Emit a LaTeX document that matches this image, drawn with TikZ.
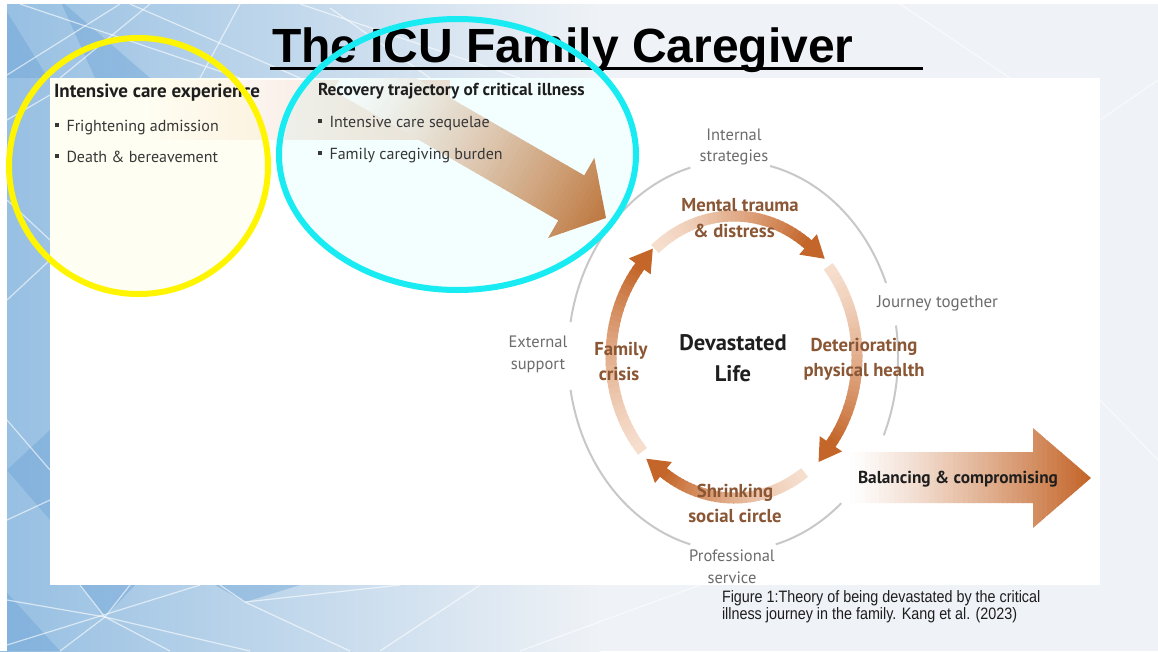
\documentclass[tikz,border=0pt]{standalone}
\usepackage{fontspec}
\setmainfont{PT Sans}
\newfontfamily\titlefont{Liberation Sans}
\newfontfamily\capfont[FakeStretch=0.87]{Liberation Sans}
\usetikzlibrary{calc,fadings}

\definecolor{bglight}{RGB}{239,242,246}
\definecolor{bgblue}{RGB}{150,191,226}
\definecolor{bgdeep}{RGB}{96,155,210}
\definecolor{ringdark}{RGB}{196,102,42}
\definecolor{ringlight}{RGB}{246,222,205}
\definecolor{bigorange}{RGB}{200,116,56}
\definecolor{bandpeach}{RGB}{246,224,210}
\definecolor{labelbrown}{RGB}{138,86,52}
\definecolor{greylabel}{RGB}{108,108,108}
\definecolor{outergrey}{RGB}{200,200,200}
\definecolor{headdark}{RGB}{30,30,30}
\definecolor{itemgrey}{RGB}{55,55,55}
\definecolor{captext}{RGB}{30,30,30}
\definecolor{hiyellow}{RGB}{255,245,0}
\definecolor{hicyan}{RGB}{24,236,242}

% ring geometry (inner cycle) and outer ellipse
\def\rcx{734}\def\rcy{357}\def\rrx{123}\def\rry{141}
\def\ocx{733}\def\ocy{356}\def\orx{165}\def\ory{195}

\newcommand{\sqbullet}{\rule[0.22em]{0.27em}{0.27em}\hspace{0.45em}}

% one arc of the inner cycle, drawn clockwise from angle #1 to #2,
% pale at its start and dark at its arrow head
\newcommand{\ringsweep}[2]{%
  \foreach \k in {0,...,35}{%
    \pgfmathsetmacro{\ta}{#1+(#2-#1)*\k/36}%
    \pgfmathsetmacro{\tb}{#1+(#2-#1)*(\k+1.3)/36}%
    \pgfmathsetmacro{\mx}{100*pow(\k/35+0.0001,1.4)}%
    \draw[ringseg, draw=ringdark!\mx!ringlight]
      plot[domain=\ta:\tb, samples=5] ({\rcx+\rrx*cos(\x)},{\rcy-\rry*sin(\x)});%
  }%
  \pgfmathsetmacro{\px}{\rcx+\rrx*cos(#2)}%
  \pgfmathsetmacro{\py}{\rcy-\rry*sin(#2)}%
  \pgfmathsetmacro{\vx}{\rrx/100*sin(#2)}%
  \pgfmathsetmacro{\vy}{\rry/100*cos(#2)}%
  \pgfmathsetmacro{\vl}{sqrt(\vx*\vx+\vy*\vy)}%
  \pgfmathsetmacro{\ux}{\vx/\vl}%
  \pgfmathsetmacro{\uy}{\vy/\vl}%
  \fill[ringdark] ({\px+22*\ux},{\py+22*\uy}) -- ({\px-13.5*\uy},{\py+13.5*\ux})
    -- ({\px+13.5*\uy},{\py-13.5*\ux}) -- cycle;%
}

\tikzset{
  fig/.style={inner sep=0pt, outer sep=0pt},
  headtxt/.style={fig, anchor=base west, font=\fontsize{17.3}{20}\selectfont\bfseries, text=headdark},
  itemtxt/.style={fig, anchor=base west, font=\fontsize{16}{19}\selectfont, text=itemgrey},
  ringtxt/.style={fig, anchor=base, font=\fontsize{18.7}{21}\selectfont\bfseries, text=labelbrown},
  coretxt/.style={fig, anchor=base, font=\fontsize{22.5}{25}\selectfont\bfseries, text=black!88},
  sidetxt/.style={fig, anchor=base, font=\fontsize{16.5}{19}\selectfont, text=greylabel},
  captxt/.style={fig, anchor=base west, font=\capfont\fontsize{16.5}{19}\selectfont, text=captext},
  ringseg/.style={line width=11pt, line cap=butt},
  outerline/.style={draw=outergrey, line width=2pt},
  bgline/.style={draw=white, line width=1.2pt, opacity=0.6},
  bgtri/.style={fill=bgdeep, opacity=0.35},
  hiring/.style={line width=6pt},
}

\begin{document}
\begin{tikzpicture}[x=1pt, y=-1pt]
\useasboundingbox (0,0) rectangle (1158,651);

% ---------- slide background ----------
\fill[bglight] (0,0) rectangle (1158,651);
\shade[left color=bgblue, right color=bglight] (0,0) rectangle (600,651);
\fill[bgtri] (7,12) -- (48,78) -- (7,78) -- cycle;
\fill[bgtri] (60,0) -- (150,78) -- (95,78) -- cycle;
\fill[bgtri] (80,585) -- (105,617) -- (135,585) -- cycle;
\fill[bgtri] (215,585) -- (245,602) -- (300,585) -- cycle;
\fill[bgtri] (7,470) -- (50,430) -- (50,520) -- cycle;
\fill[bgtri] (0,585) -- (60,651) -- (0,651) -- cycle;
\foreach \a/\b in {{(7,75)}/{(120,4)}, {(20,4)}/{(240,78)}, {(60,78)}/{(150,4)},
                   {(240,4)}/{(200,78)}, {(130,4)}/{(300,78)}, {(330,8)}/{(430,78)},
                   {(300,4)}/{(520,78)}, {(7,120)}/{(50,95)}, {(7,300)}/{(50,260)},
                   {(7,200)}/{(50,240)}, {(7,420)}/{(50,470)}, {(7,520)}/{(50,500)},
                   {(7,600)}/{(105,617)}, {(105,617)}/{(250,651)}, {(105,617)}/{(80,585)},
                   {(105,617)}/{(130,585)}, {(105,617)}/{(60,651)}, {(105,617)}/{(170,651)},
                   {(7,645)}/{(200,585)}, {(245,602)}/{(350,651)}, {(245,602)}/{(220,585)},
                   {(245,602)}/{(400,585)}, {(380,651)}/{(480,585)}, {(520,651)}/{(700,585)},
                   {(1100,120)}/{(1158,80)}, {(1100,400)}/{(1158,460)}, {(900,4)}/{(1010,78)}}
  \draw[bgline] \a -- \b;
\fill[white] (0,0) rectangle (1158,4);
\fill[white] (0,0) rectangle (7,651);

% ---------- title ----------
\node[fig, anchor=base west, font={\titlefont\fontsize{48}{52}\bfseries}] (title) at (272,62) {The ICU Family Caregiver};
\coordinate (ulL) at (270,68.5);
\coordinate (ulR) at (923,68.5);
\draw[line width=2.6pt] (ulL) -- (ulR);

% ---------- figure panel ----------
\fill[white] (50,78) rectangle (1100,585);
\fill[bandpeach, path fading=west] (150,80) rectangle (450,140);

% diagonal trajectory arrow
\begin{scope}
  \clip (50,78) rectangle (1100,585);
  \begin{scope}[shift={(606,218)}, rotate=-30]
    \clip (-300,-26) -- (-40,-26) -- (-40,-46) -- (0,0) -- (-40,46) -- (-40,26) -- (-300,26) -- cycle;
    \foreach \k in {0,...,59}{
      \pgfmathsetmacro{\xa}{-300+5*\k}
      \pgfmathsetmacro{\mx}{100*pow(\k/59+0.0001,1.4)}
      \fill[bigorange!\mx!white] (\xa,-50) rectangle ({\xa+5.6},50);
    }
  \end{scope}
\end{scope}

% light tint inside the two highlight rings, on the panel only
\begin{scope}
  \clip (50,78) rectangle (1100,585);
  \fill[hiyellow, opacity=0.05] (138.5,166) ellipse[x radius=129.5, y radius=128];
  \fill[hicyan, opacity=0.05] (457.5,154.5) ellipse[x radius=178.5, y radius=135.5];
\end{scope}

% outer grey ellipse, broken around its labels
\foreach \a/\b in {105/170, 190/255, 285/311, 336/369, 382/437}
  \draw[outerline] plot[domain=\a:\b, samples=40] ({\ocx+\orx*cos(\x)},{\ocy-\ory*sin(\x)});

% inner cycle of four arrows
\ringsweep{130}{53}
\ringsweep{40}{-38}
\ringsweep{-55}{-125}
\ringsweep{222}{140}

% balancing arrow
\begin{scope}
  \clip (845,452) -- (1033,452) -- (1033,428) -- (1091,478) -- (1033,528) -- (1033,503) -- (845,503) -- cycle;
  \foreach \k in {0,...,49}{
    \pgfmathsetmacro{\xa}{845+4.92*\k}
    \pgfmathsetmacro{\mx}{100*pow(\k/49+0.0001,1.2)}
    \fill[ringdark!\mx!white] (\xa,420) rectangle ({\xa+5.5},540);
  }
\end{scope}

% ---------- texts of the figure ----------
\node[headtxt, font=\fontsize{19}{22}\selectfont\bfseries] (ice) at (54,97) {Intensive care experience};
\node[itemtxt] (fa) at (55,131) {\sqbullet Frightening admission};
\node[itemtxt] (db) at (55,162) {\sqbullet Death \& bereavement};
\node[headtxt] (rtc) at (318,95) {Recovery trajectory of critical illness};
\node[itemtxt] (ics) at (318,127) {\sqbullet Intensive care sequelae};
\node[itemtxt] (fcb) at (318,159) {\sqbullet Family caregiving burden};

\node[sidetxt] (is1) at (734,140) {Internal};
\node[sidetxt] (is2) at (734,161) {strategies};
\node[sidetxt] (es1) at (538,347) {External};
\node[sidetxt] (es2) at (538,369) {support};
\node[sidetxt, anchor=base west, font=\fontsize{17}{19}\selectfont] (jt) at (877,307) {Journey together};
\node[sidetxt] (ps1) at (732,561) {Professional};
\node[sidetxt] (ps2) at (732,583) {service};

\node[ringtxt] (mt1) at (740,211) {Mental trauma};
\node[ringtxt] (mt2) at (734,237) {\& distress};
\node[ringtxt] (fc1) at (621,355) {Family};
\node[ringtxt] (fc2) at (619,380) {crisis};
\node[ringtxt] (dh1) at (864,351) {Deteriorating};
\node[ringtxt] (dh2) at (864,376) {physical health};
\node[ringtxt] (sc1) at (735,497) {Shrinking};
\node[ringtxt] (sc2) at (735,522) {social circle};

\node[coretxt] (dl1) at (733,350) {Devastated};
\node[coretxt] (dl2) at (733,381) {Life};

\node[headtxt] (bc) at (858,483) {Balancing \& compromising};

% caption
\node[captxt] (cap1) at (722,602) {Figure 1:Theory of being devastated by the critical};
\node[captxt] (cap2) at (722,619) {illness journey in the family. Kang et al. (2023)};

% ---------- highlight rings ----------
\draw[hiyellow, hiring] (138.5,166) ellipse[x radius=129.5, y radius=128];
\draw[hicyan, hiring] (457.5,154.5) ellipse[x radius=178.5, y radius=135.5];
\end{tikzpicture}
\end{document}
